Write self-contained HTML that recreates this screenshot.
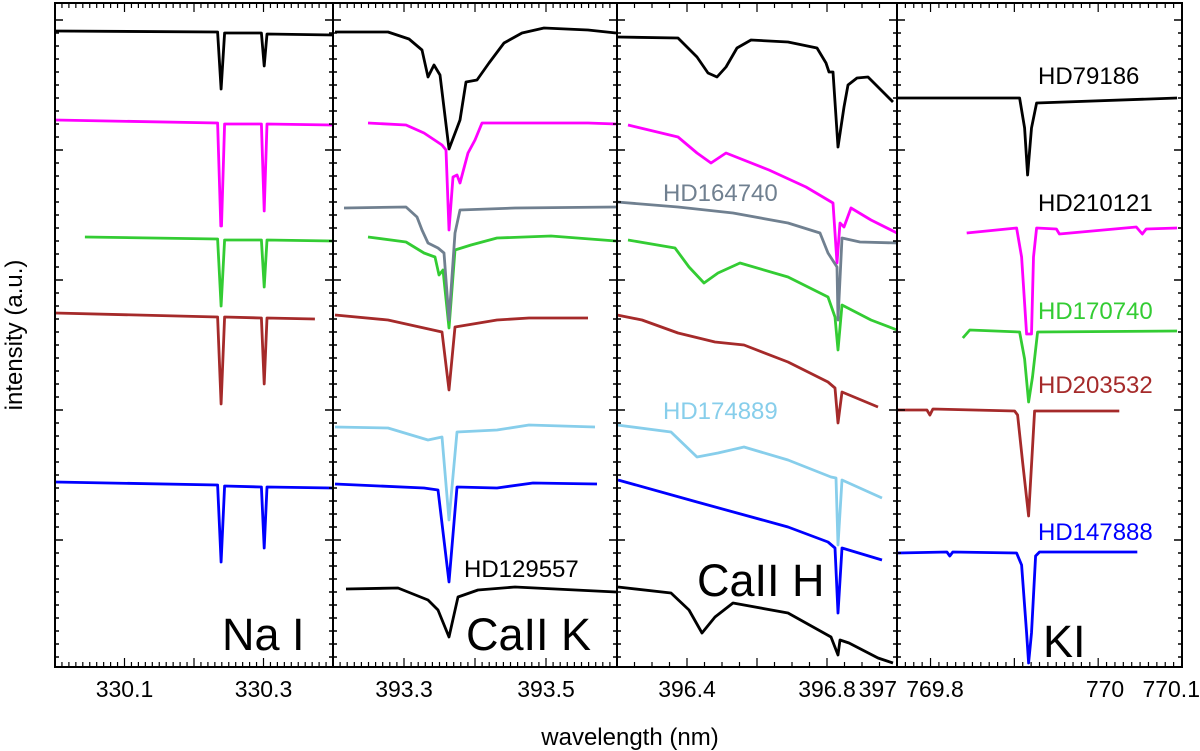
<!DOCTYPE html>
<html><head><meta charset="utf-8"><style>
body{margin:0;background:#fff}
svg{display:block}
text{font-family:"Liberation Sans",sans-serif}
</style></head><body>
<svg id="chart" width="1200" height="751" viewBox="0 0 1200 751">
<g id="marks"></g>
<g id="axes"></g>
<text x="22" y="335" font-size="24" text-anchor="middle" transform="rotate(-90 22 335)">intensity (a.u.)</text>
<text x="630" y="745" font-size="24" text-anchor="middle">wavelength (nm)</text>
<text x="222" y="650" font-size="45">Na I</text>
<text x="466" y="650" font-size="45">CaII K</text>
<text x="697" y="596" font-size="45">CaII H</text>
<text x="1043" y="657" font-size="45">KI</text>
<text x="1038" y="84" font-size="24" fill="#000">HD79186</text>
<text x="1038" y="211" font-size="24" fill="#000">HD210121</text>
<text x="1038" y="319" font-size="24" fill="#33cc33">HD170740</text>
<text x="1038" y="393" font-size="24" fill="#a52a2a">HD203532</text>
<text x="1038" y="540" font-size="24" fill="#0000ff">HD147888</text>
<text x="663" y="201" font-size="24" fill="#708090">HD164740</text>
<text x="663" y="419" font-size="24" fill="#87ceeb">HD174889</text>
<text x="464" y="577" font-size="24" fill="#000">HD129557</text>
</svg>
<script>
// ---- Na I panel ----
const naBlackWl=[330.000,330.234,330.239,330.244,330.297,330.301,330.305,330.400];
const naBlackI=[6.36,6.35,5.78,6.34,6.34,6.01,6.33,6.32];
const naMagWl=[330.000,330.234,330.2385,330.2395,330.244,330.297,330.301,330.305,330.399];
const naMagI=[5.47,5.44,4.41,4.41,5.43,5.43,4.56,5.43,5.42];
const naGreenWl=[330.043,330.234,330.239,330.244,330.297,330.301,330.305,330.399];
const naGreenI=[4.30,4.28,3.61,4.27,4.27,3.80,4.27,4.26];
const naBrownWl=[330.000,330.234,330.239,330.244,330.297,330.301,330.305,330.374];
const naBrownI=[3.54,3.50,2.63,3.50,3.49,2.83,3.49,3.48];
const naBlueWl=[330.000,330.234,330.239,330.244,330.297,330.301,330.305,330.399];
const naBlueI=[1.85,1.82,1.05,1.81,1.80,1.19,1.80,1.79];
// ---- CaII K panel ----
const kBlackWl=[393.2028,393.2775,393.3070,393.3254,393.3338,393.3423,393.3507,393.3634,393.3746,393.3789,393.3873,393.4028,393.4197,393.4408,393.4662,393.4972,393.5592,393.5986];
const kBlackI=[6.35,6.35,6.28,6.17,5.90,6.02,5.92,5.18,5.39,5.47,5.85,5.87,6.04,6.24,6.34,6.39,6.37,6.34];
const kMagWl=[393.2493,393.3028,393.3282,393.3535,393.3592,393.3634,393.3690,393.3746,393.3789,393.3901,393.4000,393.4099,393.4563,393.5592,393.5986];
const kMagI=[5.44,5.42,5.34,5.22,5.17,4.37,4.90,4.92,4.84,5.14,5.27,5.44,5.44,5.44,5.43];
const kGrayWl=[393.2155,393.3028,393.3183,393.3254,393.3338,393.3479,393.3563,393.3634,393.3718,393.3789,393.4563,393.5986];
const kGrayI=[4.59,4.60,4.50,4.37,4.24,4.19,4.14,3.47,4.34,4.57,4.59,4.60];
const kGreenWl=[393.2493,393.3028,393.3282,393.3437,393.3493,393.3549,393.3634,393.3718,393.3944,393.4310,393.5070,393.5986];
const kGreenI=[4.30,4.25,4.14,4.10,3.92,3.97,3.39,4.17,4.22,4.29,4.31,4.26];
const kBrownWl=[393.2028,393.2775,393.3282,393.3535,393.3634,393.3718,393.4310,393.4761,393.5592];
const kBrownI=[3.52,3.47,3.39,3.35,2.77,3.40,3.47,3.49,3.49];
const kLbWl=[393.2028,393.2775,393.3338,393.3535,393.3634,393.3746,393.4310,393.4761,393.5690];
const kLbI=[2.40,2.39,2.27,2.30,1.47,2.35,2.37,2.42,2.40];
const kBlueWl=[393.2028,393.3282,393.3479,393.3634,393.3746,393.4310,393.4817,393.5718];
const kBlueI=[1.83,1.79,1.77,0.85,1.80,1.79,1.84,1.83];
const kBlack2Wl=[393.2183,393.2915,393.3338,393.3479,393.3634,393.3761,393.4042,393.4563,393.5986];
const kBlack2I=[0.78,0.79,0.67,0.57,0.30,0.70,0.77,0.80,0.75];
// ---- CaII H panel ----
const hBlackWl=[396.2000,396.3743,396.4286,396.4600,396.4857,396.5114,396.5429,396.5829,396.6886,396.7714,396.7971,396.8057,396.8171,396.8314,396.8486,396.8600,396.8857,396.9171,396.9457,396.9886];
const hBlackI=[6.30,6.29,6.10,5.94,5.90,6.00,6.19,6.27,6.25,6.19,6.04,5.95,5.95,5.20,5.60,5.82,5.89,5.90,5.80,5.65];
const hMagWl=[396.2314,396.3743,396.4286,396.4686,396.5114,396.6343,396.7400,396.8171,396.8286,396.8371,396.8486,396.8686,396.9257,397.0000];
const hMagI=[5.42,5.30,5.14,5.04,5.14,4.97,4.80,4.64,4.04,4.44,4.40,4.59,4.47,4.34];
const hGrayWl=[396.2000,396.3743,396.5314,396.6886,396.7800,396.8029,396.8286,396.8314,396.8429,396.8943,397.0000];
const hGrayI=[4.65,4.60,4.54,4.44,4.34,4.14,4.00,3.47,4.29,4.25,4.24];
const hGreenWl=[396.2314,396.3657,396.4057,396.4486,396.4886,396.5514,396.6886,396.8029,396.8229,396.8314,396.8429,396.9257,397.0000];
const hGreenI=[4.27,4.19,4.00,3.84,3.94,4.04,3.90,3.70,3.50,3.17,3.62,3.47,3.37];
const hBrownWl=[396.2000,396.2714,396.3743,396.4800,396.5629,396.6886,396.8029,396.8229,396.8314,396.8429,396.9457];
const hBrownI=[3.52,3.47,3.34,3.25,3.22,3.05,2.85,2.79,2.44,2.75,2.60];
const hLbWl=[396.2000,396.3543,396.4286,396.4886,396.5629,396.6886,396.8114,396.8257,396.8314,396.8429,396.9571];
const hLbI=[2.42,2.35,2.10,2.14,2.20,2.07,1.90,1.89,1.22,1.87,1.69];
const hBlueWl=[396.2029,396.4286,396.6886,396.8029,396.8229,396.8314,396.8429,396.9571];
const hBlueI=[1.87,1.65,1.40,1.25,1.19,0.54,1.19,1.07];
const hBlack2Wl=[396.2029,396.3543,396.4057,396.4429,396.4800,396.5314,396.5629,396.6886,396.8114,396.8314,396.8371,396.8629,396.9457,396.9886];
const hBlack2I=[0.80,0.74,0.57,0.34,0.50,0.64,0.62,0.54,0.30,0.12,0.27,0.24,0.09,0.04];
// ---- K I panel ----
const kiBlackWl=[769.7600,769.9063,769.9122,769.9158,769.9205,769.9265,770.0941];
const kiBlackI=[5.69,5.69,5.39,4.92,5.39,5.64,5.69];
const kiMagWl=[769.8432,769.9027,769.9086,769.9146,769.9205,769.9229,769.9265,769.9502,769.9538,770.0455,770.0526,770.0573,770.0941];
const kiMagI=[4.34,4.39,4.10,3.33,3.33,4.10,4.39,4.38,4.33,4.40,4.33,4.38,4.39];
const kiGreenWl=[769.8385,769.8468,769.9063,769.9122,769.9170,769.9217,769.9277,770.0941];
const kiGreenI=[3.29,3.37,3.35,3.08,2.65,2.90,3.35,3.36];
const kiBrownWl=[769.7612,769.7957,769.7992,769.8028,769.9003,769.9039,769.9098,769.9170,769.9241,770.0252];
const kiBrownI=[2.57,2.57,2.52,2.58,2.56,2.52,2.05,1.51,2.56,2.56];
const kiBlueWl=[769.7612,769.8195,769.8230,769.8266,769.9027,769.9086,769.9146,769.9170,769.9205,769.9253,769.9300,770.0467];
const kiBlueI=[1.14,1.15,1.11,1.15,1.14,1.02,0.34,0.04,0.34,1.11,1.15,1.15];
// tick labels
const naTicks=[330.1,330.3];
const kTicks=[393.3,393.5];
const hTicks=[396.4,396.8,397];
const kiTicks=[769.8,770,770.1];

const NS="http://www.w3.org/2000/svg";
const panels=[
 {x0:55,x1:333,d0:330.0,d1:330.4,major:0.1,minor:0.01,labels:naTicks},
 {x0:333,x1:617,d0:393.2,d1:393.6,major:0.1,minor:0.01,labels:kTicks},
 {x0:617,x1:897,d0:396.2,d1:397.0,major:0.2,minor:0.05,labels:hTicks},
 {x0:897,x1:1182,d0:769.76,d1:770.10,major:0.1,minor:0.01,labels:kiTicks}
];
const Y0=667,YTOP=3;
function xs(p,l){return p.x0+(l-p.d0)/(p.d1-p.d0)*(p.x1-p.x0);}
function ys(v){return Y0-v*100;}
const C={black:"#000",mag:"#ff00ff",gray:"#708090",green:"#33cc33",brown:"#a52a2a",lb:"#87ceeb",blue:"#0000ff"};
const series=[
 [0,naBlackWl,naBlackI,C.black,"na-hd79186"],[0,naMagWl,naMagI,C.mag,"na-hd210121"],[0,naGreenWl,naGreenI,C.green,"na-hd170740"],[0,naBrownWl,naBrownI,C.brown,"na-hd203532"],[0,naBlueWl,naBlueI,C.blue,"na-hd147888"],
 [1,kBlackWl,kBlackI,C.black,"k-hd79186"],[1,kMagWl,kMagI,C.mag,"k-hd210121"],[1,kGreenWl,kGreenI,C.green,"k-hd170740"],[1,kGrayWl,kGrayI,C.gray,"k-hd164740"],[1,kBrownWl,kBrownI,C.brown,"k-hd203532"],[1,kBlueWl,kBlueI,C.blue,"k-hd147888"],[1,kLbWl,kLbI,C.lb,"k-hd174889"],[1,kBlack2Wl,kBlack2I,C.black,"k-hd129557"],
 [2,hBlackWl,hBlackI,C.black,"h-hd79186"],[2,hMagWl,hMagI,C.mag,"h-hd210121"],[2,hGreenWl,hGreenI,C.green,"h-hd170740"],[2,hGrayWl,hGrayI,C.gray,"h-hd164740"],[2,hBrownWl,hBrownI,C.brown,"h-hd203532"],[2,hBlueWl,hBlueI,C.blue,"h-hd147888"],[2,hLbWl,hLbI,C.lb,"h-hd174889"],[2,hBlack2Wl,hBlack2I,C.black,"h-hd129557"],
 [3,kiBlackWl,kiBlackI,C.black,"ki-hd79186"],[3,kiMagWl,kiMagI,C.mag,"ki-hd210121"],[3,kiGreenWl,kiGreenI,C.green,"ki-hd170740"],[3,kiBrownWl,kiBrownI,C.brown,"ki-hd203532"],[3,kiBlueWl,kiBlueI,C.blue,"ki-hd147888"]
];
const marks=document.getElementById("marks");
series.forEach(s=>{
 const p=panels[s[0]];
 const d=s[1].map((l,i)=>(i?"L":"M")+xs(p,l).toFixed(1)+","+ys(s[2][i]).toFixed(1)).join("");
 const el=document.createElementNS(NS,"path");
 el.setAttribute("d",d);el.setAttribute("fill","none");el.setAttribute("stroke",s[3]);
 el.setAttribute("stroke-width","2.8");el.setAttribute("stroke-linejoin","round");
 
 
 marks.appendChild(el);
});
const axes=document.getElementById("axes");
function line(x1,y1,x2,y2,w){const l=document.createElementNS(NS,"line");l.setAttribute("x1",x1);l.setAttribute("y1",y1);l.setAttribute("x2",x2);l.setAttribute("y2",y2);l.setAttribute("stroke","#000");l.setAttribute("stroke-width",w);axes.appendChild(l);return l;}
const fr=document.createElementNS(NS,"rect");
fr.setAttribute("x",55);fr.setAttribute("y",YTOP);fr.setAttribute("width",1182-55);fr.setAttribute("height",Y0-YTOP);
fr.setAttribute("fill","none");fr.setAttribute("stroke","#000");fr.setAttribute("stroke-width","2");


axes.appendChild(fr);
[333,617,897].forEach(x=>{const l=line(x,YTOP,x,Y0,2);
 
 });
[55,333,617,897,1182].forEach(x=>{
 for(let k=0;k<52;k++){const y=20+13*k;if(y>Y0-2)break;const len=(k%10===0)?8:4;
  if(x<1182)line(x,y,x+len,y,1.5);if(x>55)line(x-len,y,x,y,1.5);}
});
panels.forEach((p,pi)=>{
 const n=Math.round((p.d1-p.d0)/p.minor);
 for(let i=0;i<=n;i++){const l=p.d0+i*p.minor;const x=xs(p,l);
  const isMaj=Math.abs(l/p.major-Math.round(l/p.major))<1e-6;const len=isMaj?9:5;
  line(x,Y0,x,Y0-len,1.2);line(x,YTOP,x,YTOP+len,1.2);}
 p.labels.forEach(v=>{const t=document.createElementNS(NS,"text");
  let x=xs(p,v);let anchor="middle";
  if(pi===2&&v===397){x=897;anchor="end";}
  if(pi===3&&v===769.8){x=935;}
  if(pi===3&&v===770){x=1105;}
  if(x>1160){x=1200;anchor="end";}
  t.setAttribute("x",x);t.setAttribute("y",697);t.setAttribute("font-size","23");t.setAttribute("text-anchor",anchor);
  t.textContent=String(v);
  
  
  axes.appendChild(t);});
});
</script>
</body></html>
